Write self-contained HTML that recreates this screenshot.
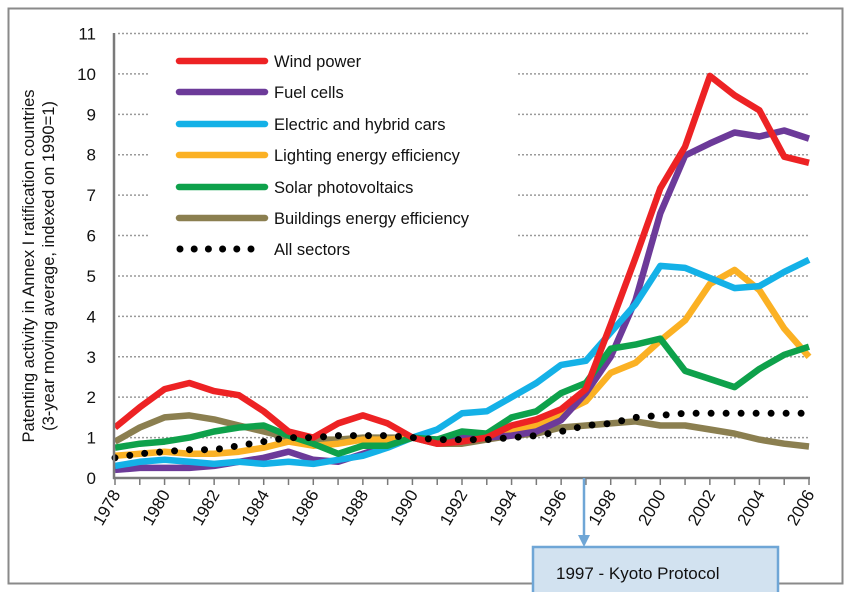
<!DOCTYPE html>
<html><head><meta charset="utf-8"><style>
body{margin:0;background:#fff;}
svg{display:block;font-family:"Liberation Sans",sans-serif;}
</style></head><body>
<svg id="chart" width="850" height="592" viewBox="0 0 850 592" xmlns="http://www.w3.org/2000/svg">
<rect x="8.5" y="8.5" width="834" height="575" fill="#fff" stroke="#8a8a8a" stroke-width="2"/>
<g id="grid"></g>
<rect x="150" y="42" width="368" height="222" fill="#fff"/>
<g id="series"></g>
<g id="axes"></g>
<g id="legend"></g>
<text transform="translate(34,266) rotate(-90)" text-anchor="middle" font-size="16.5" fill="#111">Patenting activity in Annex I ratification countries</text>
<text transform="translate(54,266) rotate(-90)" text-anchor="middle" font-size="16.5" fill="#111">(3-year moving average, indexed on 1990=1)</text>
<line x1="584" y1="478" x2="584" y2="536" stroke="#6fa6d6" stroke-width="2.5"/>
<polygon points="578,535 590,535 584,547" fill="#6fa6d6"/>
<rect x="533" y="547" width="245" height="50" fill="#d2e2f0" stroke="#6fa6d6" stroke-width="2.5"/>
<text x="556" y="579" font-size="17" fill="#111">1997 - Kyoto Protocol</text>
</svg>
<script>
const years=[1978,1979,1980,1981,1982,1983,1984,1985,1986,1987,1988,1989,1990,1991,1992,1993,1994,1995,1996,1997,1998,1999,2000,2001,2002,2003,2004,2005,2006];
const wind=[1.25,1.75,2.2,2.35,2.15,2.05,1.65,1.15,1.0,1.35,1.55,1.35,1.0,0.85,0.9,1.0,1.3,1.45,1.7,2.2,3.8,5.45,7.17,8.2,9.95,9.47,9.1,7.95,7.8];
const fuel=[0.2,0.25,0.25,0.25,0.3,0.4,0.5,0.65,0.45,0.4,0.6,0.8,1.0,0.95,1.0,1.0,1.05,1.15,1.43,2.1,3.0,4.4,6.55,7.98,8.28,8.55,8.45,8.6,8.4];
const cars=[0.3,0.4,0.45,0.4,0.35,0.4,0.35,0.4,0.35,0.45,0.55,0.75,1.0,1.2,1.6,1.65,2.0,2.35,2.8,2.9,3.6,4.3,5.25,5.2,4.95,4.7,4.75,5.1,5.4];
const lighting=[0.55,0.6,0.65,0.6,0.6,0.65,0.75,0.9,0.8,0.85,0.95,0.95,1.0,0.9,0.95,1.0,1.15,1.3,1.6,1.9,2.6,2.85,3.4,3.9,4.8,5.15,4.65,3.7,3.0];
const solar=[0.75,0.85,0.9,1.0,1.15,1.25,1.3,1.05,0.85,0.6,0.8,0.8,1.0,0.95,1.15,1.1,1.5,1.65,2.1,2.35,3.2,3.3,3.45,2.65,2.45,2.25,2.7,3.05,3.25];
const buildings=[0.9,1.25,1.5,1.55,1.45,1.3,1.15,1.0,0.95,0.95,1.0,1.0,1.0,0.85,0.85,0.95,1.05,1.1,1.25,1.3,1.35,1.4,1.3,1.3,1.2,1.1,0.95,0.85,0.78];
const allSectors=[0.5,0.6,0.65,0.7,0.7,0.8,0.9,1.0,1.0,1.05,1.05,1.05,1.0,0.95,0.95,0.95,1.0,1.05,1.15,1.3,1.35,1.5,1.55,1.6,1.6,1.6,1.6,1.6,1.6];
const seriesNames=["Wind power","Fuel cells","Electric and hybrid cars","Lighting energy efficiency","Solar photovoltaics","Buildings energy efficiency","All sectors"];
const yTicks=[0,1,2,3,4,5,6,7,8,9,10,11];
const xTickLabels=[1978,1980,1982,1984,1986,1988,1990,1992,1994,1996,1998,2000,2002,2004,2006];

const NS="http://www.w3.org/2000/svg";
const X0=115,X1=809,Y0=478,Y1=33.5;
function xs(y){return X0+(y-1978)*(X1-X0)/28;}
function ys(v){return Y0-v*(Y0-Y1)/11;}
function mk(tag,attrs,parent){const e=document.createElementNS(NS,tag);for(const k in attrs)e.setAttribute(k,attrs[k]);parent.appendChild(e);return e;}

const grid=document.getElementById('grid');
yTicks.forEach(t=>{
  if(t>0){
    const l=mk('line',{x1:118,x2:810,y1:ys(t),y2:ys(t),stroke:'#9a9a9a','stroke-width':1.5,'stroke-dasharray':'2 2'},grid);
    
    
  }
  const tx=mk('text',{x:96,y:ys(t)+6,'text-anchor':'end','font-size':17,fill:'#111'},grid);
  tx.textContent=t;
  
  
});

const axes=document.getElementById('axes');
const ya=mk('line',{x1:114,x2:114,y1:33,y2:479,stroke:'#7a7a7a','stroke-width':2.5},axes);


const xa=mk('line',{x1:113,x2:810,y1:478,y2:478,stroke:'#7a7a7a','stroke-width':2.5},axes);


years.forEach(y=>{
  const t=mk('line',{x1:xs(y),x2:xs(y),y1:478,y2:485,stroke:'#7a7a7a','stroke-width':1.5},axes);
  
  
});
xTickLabels.forEach(y=>{
  const t=mk('text',{transform:`translate(${xs(y)+6},${494}) rotate(-60)`,'text-anchor':'end','font-size':17,fill:'#111'},axes);
  t.textContent=y;
  
  
});

const colors=['#ed2224','#6c3a99','#14b1e7','#fbb124','#0ea14b','#8b7f50'];
const data=[wind,fuel,cars,lighting,solar,buildings];
const order=[5,3,1,2,4,0];
const sg=document.getElementById('series');
order.forEach(i=>{
  const d=data[i].map((v,j)=>(j?'L':'M')+xs(years[j]).toFixed(1)+','+ys(v).toFixed(1)).join(' ');
  const p=mk('path',{d:d,fill:'none',stroke:colors[i],'stroke-width':6.5,'stroke-linejoin':'round'},sg);
  
  
});
const ad=allSectors.map((v,j)=>(j?'L':'M')+xs(years[j]).toFixed(1)+','+ys(v).toFixed(1)).join(' ');
const ap=mk('path',{d:ad,fill:'none',stroke:'#000','stroke-width':7,'stroke-linecap':'round','stroke-dasharray':'0 15'},sg);



const lg=document.getElementById('legend');
const rowsY=[61,92,124,155,187,218,249];
seriesNames.forEach((n,i)=>{
  const y=rowsY[i];
  let l;
  if(i<6) l=mk('line',{x1:179,x2:265,y1:y,y2:y,stroke:colors[i],'stroke-width':6.5,'stroke-linecap':'round'},lg);
  else l=mk('line',{x1:180,x2:265,y1:y,y2:y,stroke:'#000','stroke-width':7,'stroke-linecap':'round','stroke-dasharray':'0 14.2'},lg);
  
  
  const t=mk('text',{x:274,y:y+6,'font-size':16.5,fill:'#111'},lg);
  t.textContent=n;
  
  
});
</script>
</body></html>
